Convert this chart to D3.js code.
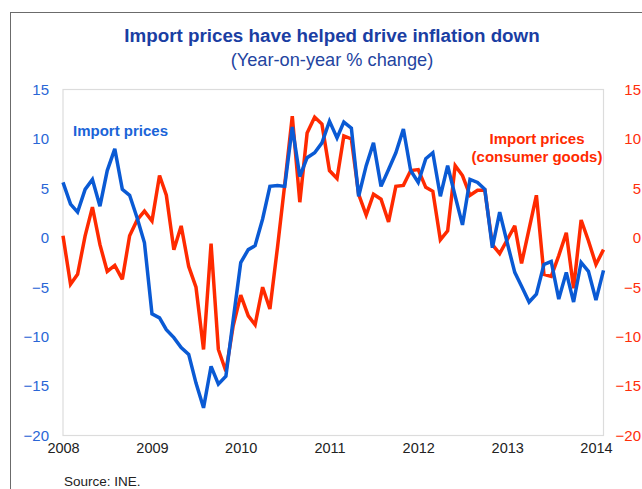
<!DOCTYPE html>
<html>
<head>
<meta charset="utf-8">
<script src="https://cdn.jsdelivr.net/npm/d3@7"></script>
<style>
  html, body { margin: 0; padding: 0; background: #fff; }
  svg { display: block; font-family: "Liberation Sans", Arial, Helvetica, sans-serif; }
</style>
</head>
<body>
<svg id="chart" width="642" height="489"></svg>
<script>
// Monthly year-on-year % change, Jan 2008 – Feb 2014
const startMonth = new Date(2008, 0, 1);
const importPrices = [
  5.6, 3.4, 2.6, 4.9, 5.9, 3.2, 6.8, 9.0, 4.9, 4.3,
  2.0, -0.5, -7.7, -8.1, -9.3, -10.1, -11.1, -11.8, -14.7, -17.2,
  -13.0, -14.8, -14.0, -8.3, -2.5, -1.2, -0.8, 1.9, 5.2, 5.3,
  5.2, 11.2, 6.2, 8.1, 8.6, 9.6, 11.8, 10.1, 11.7, 11.1,
  4.2, 7.3, 9.6, 5.2, 6.9, 8.6, 11.0, 6.8, 5.6, 8.0,
  8.6, 4.2, 7.3, 4.2, 1.3, 5.9, 5.6, 4.9, -1.0, 2.6,
  -0.5, -3.5, -4.9, -6.5, -5.7, -2.7, -2.4, -6.2, -3.5, -6.5,
  -2.5, -3.4, -6.3, -3.3
];
const consumerGoods = [
  0.2, -4.7, -3.7, 0.2, 3.1, -0.7, -3.4, -2.8, -4.2, 0.2,
  1.8, 2.7, 1.7, 6.3, 4.3, -1.2, 1.2, -2.9, -5.0, -11.3,
  -0.6, -11.3, -13.5, -8.9, -5.8, -7.9, -8.8, -5.0, -7.2, -1.0,
  5.4, 12.3, 3.6, 10.6, 12.2, 11.5, 6.8, 6.0, 10.3, 10.0,
  4.4, 2.3, 4.4, 3.9, 1.6, 5.2, 5.3, 6.8, 6.9, 5.1,
  4.7, -0.2, 0.7, 7.3, 6.3, 4.3, 4.8, 4.8, -0.7, -1.6,
  -0.2, 1.2, -2.6, 0.9, 4.3, -3.7, -3.9, -1.8, 0.5, -5.1,
  1.8, -0.3, -2.7, -1.2
];
const yearTicks = [2008, 2009, 2010, 2011, 2012, 2013, 2014];
const valueTicks = [15, 10, 5, 0, -5, -10, -15, -20];

const months = importPrices.map((_, i) => d3.timeMonth.offset(startMonth, i));

const svg = d3.select("#chart");
svg.append("rect").attr("width", 642).attr("height", 489).attr("fill", "#fff");

// outer frame
svg.append("rect")
  .attr("x", 10.5).attr("y", 12.5).attr("width", 700).attr("height", 600)
  .attr("fill", "none").attr("stroke", "#6b6b6b").attr("stroke-width", 1);

const plot = { left: 63, right: 603.5, top: 89.5, bottom: 435.5 };

const x = d3.scaleTime()
  .domain([months[0], months[months.length - 1]])
  .range([plot.left, plot.right]);
const y = d3.scaleLinear().domain([-20, 15]).range([plot.bottom, plot.top]);

// plot area frame
svg.append("rect")
  .attr("x", plot.left).attr("y", plot.top)
  .attr("width", plot.right - plot.left).attr("height", plot.bottom - plot.top)
  .attr("fill", "none").attr("stroke", "#dcdcdc").attr("stroke-width", 1.2);

// titles
svg.append("text")
  .attr("x", 332).attr("y", 42).attr("text-anchor", "middle")
  .attr("font-size", 18.8).attr("font-weight", "bold").attr("fill", "#1a3ea3")
  .text("Import prices have helped drive inflation down");
svg.append("text")
  .attr("x", 332).attr("y", 66).attr("text-anchor", "middle")
  .attr("font-size", 18.2).attr("fill", "#23449f")
  .text("(Year-on-year % change)");

// left axis (import prices)
const leftAxis = d3.axisLeft(y).tickValues(valueTicks).tickSize(0).tickPadding(0)
  .tickFormat(d3.format("d"));
const gl = svg.append("g").attr("transform", "translate(49,0)").call(leftAxis);
gl.select(".domain").remove();
gl.selectAll("text").attr("font-size", 15).attr("fill", "#2a66d6")
  .attr("font-family", "'Liberation Sans', Arial, sans-serif");

// right axis (consumer goods)
const rightAxis = d3.axisLeft(y).tickValues(valueTicks).tickSize(0).tickPadding(0)
  .tickFormat(d3.format("d"));
const gr = svg.append("g").attr("transform", "translate(641,0)").call(rightAxis);
gr.select(".domain").remove();
gr.selectAll("text").attr("font-size", 15).attr("fill", "#ff2e0a")
  .attr("font-family", "'Liberation Sans', Arial, sans-serif");

// x axis years
const xAxis = d3.axisBottom(x)
  .tickValues(yearTicks.map(yr => new Date(yr, 0, 1)))
  .tickSize(0).tickPadding(0).tickFormat(d3.timeFormat("%Y"));
const gx = svg.append("g").attr("transform", "translate(0,443)").call(xAxis);
gx.select(".domain").remove();
gx.selectAll("text").attr("font-size", 14.5).attr("fill", "#222")
  .attr("font-family", "'Liberation Sans', Arial, sans-serif");

// series lines
const line = vals => d3.line()
  .x((d, i) => x(months[i]))
  .y(d => y(d))(vals);

svg.append("path").attr("d", line(consumerGoods))
  .attr("fill", "none").attr("stroke", "#ff2a00").attr("stroke-width", 3.5)
  .attr("stroke-linejoin", "miter").attr("stroke-miterlimit", 3);
svg.append("path").attr("d", line(importPrices))
  .attr("fill", "none").attr("stroke", "#0a5ad4").attr("stroke-width", 3.5)
  .attr("stroke-linejoin", "miter").attr("stroke-miterlimit", 3);

// series labels
svg.append("text").attr("x", 73).attr("y", 136)
  .attr("font-size", 15).attr("font-weight", "bold").attr("fill", "#1a64d8")
  .text("Import prices");
const rl = svg.append("text").attr("font-size", 15).attr("font-weight", "bold")
  .attr("fill", "#ff2a00").attr("text-anchor", "middle");
rl.append("tspan").attr("x", 537).attr("y", 143.5).text("Import prices");
rl.append("tspan").attr("x", 537).attr("y", 162).text("(consumer goods)");

// source
svg.append("text").attr("x", 64).attr("y", 486)
  .attr("font-size", 13.5).attr("fill", "#222")
  .text("Source: INE.");
</script>
</body>
</html>
